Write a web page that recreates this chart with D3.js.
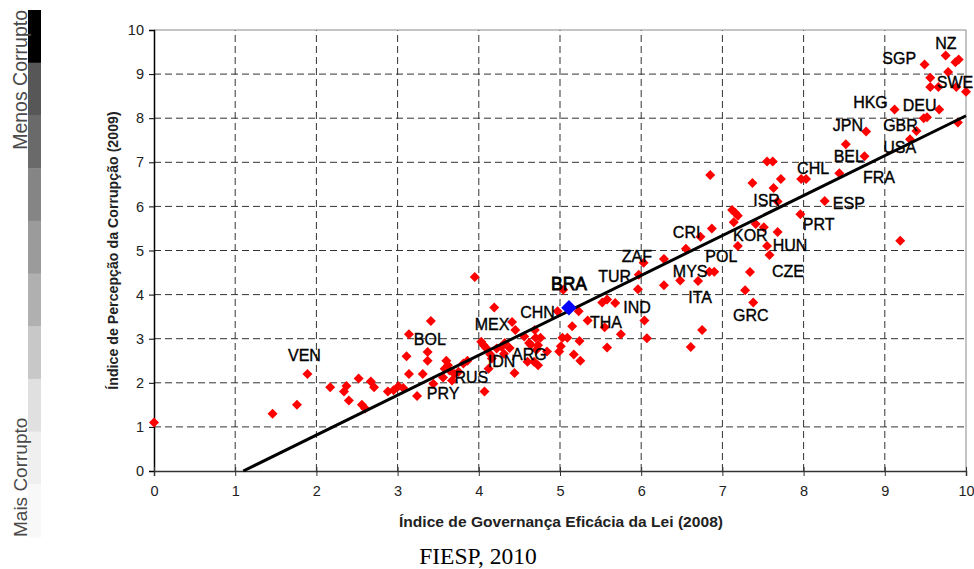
<!DOCTYPE html>
<html>
<head>
<meta charset="utf-8">
<script src="https://cdn.jsdelivr.net/npm/d3@7"></script>
<style>
  html, body { margin: 0; padding: 0; background: #fff; }
  svg { display: block; }
</style>
</head>
<body>
<svg id="chart" width="974" height="569"></svg>
<script>
// Rule of law effectiveness index (2008) vs. Corruption Perceptions Index (2009)
const ruleOfLaw = [
  0.00, 1.46, 1.76, 1.89, 2.17, 2.34, 2.37, 2.40, 2.52, 2.56, 2.60, 2.67, 2.71, 2.88, 2.95,
  3.01, 3.07, 3.11, 3.14, 3.14, 3.24, 3.31, 3.37, 3.37, 3.41, 3.44, 3.56, 3.58, 3.60, 3.62,
  3.64, 3.67, 3.70, 3.75, 3.81, 3.86, 3.95, 4.03, 4.06, 4.07, 4.09, 4.12, 4.14, 4.16, 4.19,
  4.22, 4.28, 4.31, 4.32, 4.38, 4.41, 4.45, 4.44, 4.56, 4.60, 4.62, 4.64, 4.68, 4.73, 4.69,
  4.70, 4.71, 4.73, 4.76, 4.84, 4.97, 4.99, 5.01, 5.03, 5.04, 5.09, 5.15, 5.17, 5.24, 5.25,
  5.23, 5.34, 5.52, 5.58, 5.68, 5.55, 5.58, 5.75, 5.96, 5.97, 6.03, 6.04, 6.07, 6.28, 6.28,
  6.48, 6.55, 6.61, 6.70, 6.75, 6.73, 6.84, 6.90, 6.87, 6.85, 7.12, 7.16, 7.19, 7.14, 7.19,
  7.34, 7.28, 7.38, 7.37, 7.41, 7.51, 7.55, 7.58, 7.55, 7.62, 7.63, 7.68, 7.68, 7.72, 7.97,
  8.03, 7.96, 8.26, 8.44, 8.52, 8.75, 8.77, 9.12, 9.19, 9.31, 9.39, 9.48, 9.52, 9.49, 9.56,
  9.56, 9.66, 9.67, 9.75, 9.78, 9.87, 9.91, 9.88, 9.90, 10.00
];
const corruptionIndex = [
  1.10, 1.30, 1.50, 2.20, 1.90, 1.80, 1.93, 1.60, 2.10, 1.50, 1.42, 2.03, 1.90, 1.80, 1.83,
  1.92, 1.88, 2.60, 3.10, 2.20, 1.70, 2.20, 2.70, 2.50, 3.40, 1.98, 2.12, 2.32, 2.50, 2.40,
  2.28, 2.05, 2.20, 2.25, 2.44, 2.50, 4.40, 2.93, 2.85, 1.80, 2.79, 2.32, 2.65, 2.55, 3.71,
  2.78, 2.82, 2.66, 2.90, 2.79, 3.38, 3.20, 2.22, 3.05, 2.48, 2.90, 2.86, 2.48, 2.40, 3.20,
  3.02, 2.75, 2.85, 3.02, 2.71, 3.62, 2.71, 2.83, 3.02, 4.11, 3.02, 3.28, 2.64, 2.95, 2.50,
  3.62, 3.41, 3.82, 3.89, 3.81, 3.26, 2.80, 3.10, 4.12, 4.45, 4.72, 3.41, 3.01, 4.81, 4.21,
  4.32, 5.04, 2.81, 4.31, 3.20, 5.31, 4.52, 4.52, 5.50, 6.71, 5.92, 5.85, 5.79, 5.64, 5.10,
  4.51, 4.10, 3.82, 6.53, 5.60, 5.53, 5.10, 4.90, 7.02, 7.02, 6.42, 6.11, 5.42, 6.62, 6.62,
  6.62, 5.82, 6.12, 6.75, 7.41, 7.14, 7.70, 8.20, 5.22, 7.52, 7.71, 8.00, 8.02, 9.22, 8.92,
  8.71, 8.71, 8.20, 9.42, 9.05, 9.27, 9.33, 8.71, 7.90, 8.60
];

// Brazil, highlighted
const brazil = { x: 5.11, y: 3.70 };

// Country codes and the (x, y) index position where each label starts
const labelCodes = ["VEN","BOL","PRY","RUS","MEX","IDN","ARG","CHN","BRA","TUR","THA","IND",
  "ZAF","MYS","ITA","CRI","POL","KOR","ISR","HUN","CZE","GRC","CHL","PRT","ESP","FRA",
  "BEL","USA","JPN","GBR","HKG","DEU","SGP","NZ","SWE"];
const labelX = [1.65, 3.20, 3.36, 3.70, 3.95, 4.11, 4.41, 4.51, 4.89, 5.47, 5.37, 5.78,
  5.76, 6.39, 6.58, 6.39, 6.79, 7.13, 7.38, 7.62, 7.61, 7.13, 7.92, 7.99, 8.36, 8.73,
  8.37, 8.98, 8.36, 8.98, 8.61, 9.22, 8.97, 9.62, 9.64];
const labelY = [2.49, 2.86, 1.63, 2.00, 3.20, 2.36, 2.52, 3.47, 4.10, 4.29, 3.24, 3.58,
  4.74, 4.40, 3.81, 5.28, 4.74, 5.22, 6.01, 4.99, 4.40, 3.40, 6.74, 5.47, 5.94, 6.53,
  7.01, 7.21, 7.71, 7.71, 8.23, 8.16, 9.23, 9.57, 8.69];

// Fitted trend line: y = intercept + slope * x
const trendIntercept = -0.995;
const trendSlope = 0.905;

const axisTicks = [0, 1, 2, 3, 4, 5, 6, 7, 8, 9, 10];
const xTitle = "Índice de Governança Eficácia da Lei (2008)";
const yTitle = "Índice de Percepção da Corrupção (2009)";
const sourceNote = "FIESP, 2010";

// Grey scale key on the left
const scaleShades = ["#000000", "#575757", "#6a6a6a", "#858585", "#9b9b9b", "#b0b0b0",
  "#c8c8c8", "#e0e0e0", "#efefef", "#f8f8f8"];
const scaleTop = "Menos Corrupto";
const scaleBottom = "Mais Corrupto";

const svg = d3.select("#chart");
const font = "'Liberation Sans', Arial, sans-serif";

const x = d3.scaleLinear().domain([0, 10]).range([154, 966]);
const y = d3.scaleLinear().domain([0, 10]).range([471, 30]);

// ---- key bar ----
const key = svg.append("g");
const keyY = d3.scaleBand().domain(d3.range(scaleShades.length)).range([10, 537]);
key.selectAll("rect").data(scaleShades).join("rect")
  .attr("x", 28).attr("width", 13)
  .attr("y", (d, i) => keyY(i)).attr("height", keyY.bandwidth() + 0.5)
  .attr("fill", d => d);
key.append("text")
  .attr("transform", "translate(27,10) rotate(-90)")
  .attr("text-anchor", "end")
  .attr("font-family", font).attr("font-size", 19.5).attr("fill", "#4a4a4a")
  .text(scaleTop);
key.append("text")
  .attr("transform", "translate(27,537) rotate(-90)")
  .attr("text-anchor", "start")
  .attr("font-family", font).attr("font-size", 19).attr("fill", "#4a4a4a")
  .text(scaleBottom);

// ---- grid ----
const grid = svg.append("g");
grid.selectAll("line.h").data(axisTicks.slice(1, -1)).join("line")
  .attr("x1", x(0)).attr("x2", x(10))
  .attr("y1", d => y(d)).attr("y2", d => y(d))
  .attr("stroke", "#333").attr("stroke-width", 1).attr("stroke-dasharray", "7,4");
grid.selectAll("line.v").data(axisTicks.slice(1, -1)).join("line")
  .attr("y1", y(0)).attr("y2", y(10))
  .attr("x1", d => x(d)).attr("x2", d => x(d))
  .attr("stroke", "#333").attr("stroke-width", 1).attr("stroke-dasharray", "7,4");
// frame top and right
grid.append("path")
  .attr("d", `M${x(0)},${y(10)}H${x(10)}V${y(0)}`)
  .attr("fill", "none").attr("stroke", "#8a8a8a").attr("stroke-width", 1);

// ---- axes ----
const yAxis = d3.axisLeft(y).tickValues(axisTicks).tickSize(5).tickPadding(5);
const gy = svg.append("g").attr("transform", `translate(${x(0)},0)`).call(yAxis);
gy.select(".domain").attr("stroke", "#000").attr("stroke-width", 1.5);
gy.selectAll(".tick line").attr("stroke", "#000");
gy.selectAll(".tick text").attr("font-family", font).attr("font-size", 14.5).attr("fill", "#222");

const xAxis = d3.axisBottom(x).tickValues(axisTicks).tickSize(5).tickPadding(10);
const gx = svg.append("g").attr("transform", `translate(0,${y(0)})`).call(xAxis);
gx.select(".domain").attr("stroke", "#333").attr("stroke-width", 1.5);
gx.selectAll(".tick line").attr("stroke", "#333").attr("y1", -4);
gx.selectAll(".tick text").attr("font-family", font).attr("font-size", 14.5).attr("fill", "#222");

// ---- points ----
const points = ruleOfLaw.map((v, i) => ({ x: v, y: corruptionIndex[i] }));
const diamond = d3.symbol().type(d3.symbolSquare).size(50);
svg.append("g").selectAll("path").data(points).join("path")
  .attr("d", diamond)
  .attr("transform", d => `translate(${x(d.x)},${y(d.y)}) rotate(45)`)
  .attr("fill", "#ff0000");

// ---- trend line ----
const x0 = -trendIntercept / trendSlope;
svg.append("line")
  .attr("x1", x(x0)).attr("y1", y(0))
  .attr("x2", x(10)).attr("y2", y(trendIntercept + trendSlope * 10))
  .attr("stroke", "#000").attr("stroke-width", 3);

// ---- Brazil ----
svg.append("path")
  .attr("d", d3.symbol().type(d3.symbolSquare).size(120))
  .attr("transform", `translate(${x(brazil.x)},${y(brazil.y)}) rotate(45)`)
  .attr("fill", "#0000ff");

// ---- country labels ----
svg.append("g").selectAll("text").data(labelCodes).join("text")
  .attr("x", (d, i) => x(labelX[i]))
  .attr("y", (d, i) => y(labelY[i]))
  .attr("font-family", font)
  .attr("font-size", d => d === "BRA" ? 17.5 : 16)
  .attr("fill", "#000")
  .attr("stroke", "#000")
  .attr("stroke-width", d => d === "BRA" ? 0.8 : 0.35)
  .text(d => d);

// ---- titles ----
svg.append("text")
  .attr("transform", `translate(118,${(y(0) + y(10)) / 2}) rotate(-90)`)
  .attr("text-anchor", "middle")
  .attr("font-family", font).attr("font-size", 14.2).attr("font-weight", "bold").attr("fill", "#222")
  .text(yTitle);
svg.append("text")
  .attr("x", 561).attr("y", 527)
  .attr("text-anchor", "middle")
  .attr("font-family", font).attr("font-size", 15).attr("font-weight", "bold").attr("fill", "#222")
  .attr("textLength", 324).attr("lengthAdjust", "spacingAndGlyphs")
  .text(xTitle);
svg.append("text")
  .attr("x", 478).attr("y", 564)
  .attr("text-anchor", "middle")
  .attr("font-family", "'Liberation Serif', 'Times New Roman', serif").attr("font-size", 23.5).attr("fill", "#000")
  .text(sourceNote);
</script>
</body>
</html>
